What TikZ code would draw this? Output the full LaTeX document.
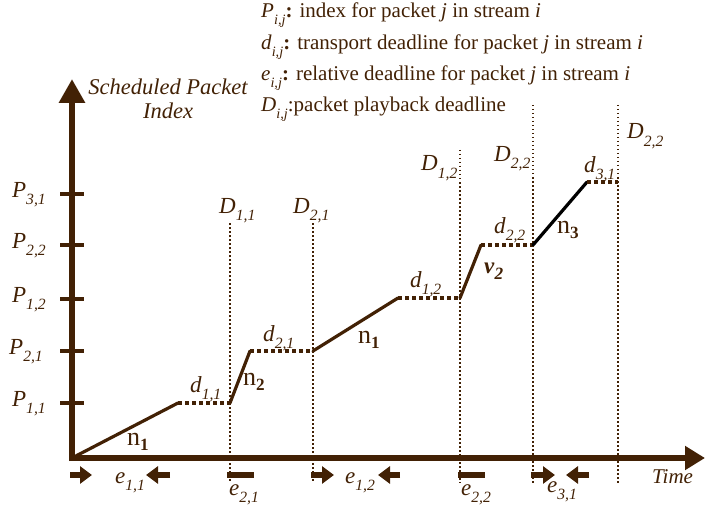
\documentclass[tikz,border=0pt]{standalone}
\usepackage{fontspec}
\setmainfont{Liberation Serif}
\usetikzlibrary{arrows.meta}
\definecolor{ink}{RGB}{66,33,5}
% italic symbol with a lowered italic subscript
\newcommand\lab[2]{\textit{#1}\raisebox{-0.32em}{\scalebox{0.68}{\textit{#2}}}}
\newcommand\nlab[2]{#1\raisebox{-0.22em}{\scalebox{0.66}{\textbf{#2}}}}
\begin{document}
\begin{tikzpicture}[x=1pt,y=-1pt,
  txt/.style={inner sep=0pt,text=ink,font=\fontsize{23}{26}\selectfont},
  rate/.style={inner sep=0pt,text=ink,anchor=base west,font=\fontsize{26}{28}\selectfont},
  legend/.style={inner sep=0pt,text=ink,anchor=base west,font=\fontsize{21}{24}\selectfont},
  axisline/.style={draw=ink,line width=6.5pt},
  tickline/.style={draw=ink,line width=4pt},
  rise/.style={draw=ink,line width=3.2pt,line cap=round},
  hold/.style={draw=ink,line width=3.5pt,dash pattern=on 4.3pt off 2.7pt},
  deadline/.style={draw=ink,line width=1.4pt,dash pattern=on 1.5pt off 2.5pt},
  blockarrow/.style={draw=ink,line width=6.5pt,-{Triangle[length=12pt,width=17pt]}},
  bar/.style={draw=ink,line width=6.5pt}]
\useasboundingbox (0,0) rectangle (707,508);

% axes
\coordinate (O) at (72,458);
\coordinate (ytop) at (72,79);
\coordinate (xend) at (705,458);
\draw[axisline,-{Triangle[length=24pt,width=25pt]}] (72,461) -- (ytop);
\draw[axisline,-{Triangle[length=20pt,width=23pt]}] (69,458) -- (xend);
\node[txt,font=\fontsize{22.5}{24}\selectfont\itshape,align=center] (yname) at (168,99) {Scheduled Packet\\Index};
\node[txt,font=\fontsize{21}{24}\selectfont\itshape,anchor=base west] (tname) at (652,483) {Time};

% ticks and packet indices
\foreach \nm/\yy/\xx/\txt in {p31/194/46/{3,1},p22/245/46/{2,2},p12/299/46/{1,2},p21/351/43/{2,1},p11/403/46/{1,1}}{
  \draw[tickline] (60,\yy) -- (84,\yy);
  \node[txt,anchor=base east] (\nm) at (\xx,\yy+3) {\lab{P}{\txt}};
}

% playback deadlines
\foreach \xx/\ya in {230/223,313/223,460/150,533/105,618/105}{
  \draw[deadline] (\xx,\ya) -- (\xx,483);
}
\node[txt,anchor=base west] (D11) at (219,213) {\lab{D}{1,1}};
\node[txt,anchor=base west] (D21) at (293,213) {\lab{D}{2,1}};
\node[txt,anchor=base west] (D12) at (421,171) {\lab{D}{1,2}};
\node[txt,anchor=base west] (D22a) at (494,161) {\lab{D}{2,2}};
\node[txt,anchor=base west] (D22b) at (627,139) {\lab{D}{2,2}};

% schedule curve
\coordinate (a0) at (72,458);
\coordinate (a1) at (178,403);
\coordinate (a2) at (230,403);
\coordinate (a3) at (250,351);
\coordinate (a4) at (313,351);
\coordinate (a5) at (398,298);
\coordinate (a6) at (460,298);
\coordinate (a7) at (481,245);
\coordinate (a8) at (533,245);
\coordinate (a9) at (587,182);
\coordinate (a10) at (618,182);
\draw[rise] (a0) -- (a1);
\draw[hold] (a1) -- (a2);
\draw[rise] (a2) -- (a3);
\draw[hold] (a3) -- (a4);
\draw[rise] (a4) -- (a5);
\draw[hold] (a5) -- (a6);
\draw[rise] (a6) -- (a7);
\draw[hold] (a7) -- (a8);
\draw[rise,draw=black] (a8) -- (a9);
\draw[hold] (a9) -- (a10);

% transport deadlines and rates
\node[txt,anchor=base west] (d11) at (190,392) {\lab{d}{1,1}};
\node[txt,anchor=base west] (d21) at (263,341) {\lab{d}{2,1}};
\node[txt,anchor=base west] (d12) at (410,287) {\lab{d}{1,2}};
\node[txt,anchor=base west] (d22) at (494,233) {\lab{d}{2,2}};
\node[txt,anchor=base west] (d31) at (584,172) {\lab{d}{3,1}};
\node[rate] (n1a) at (127,445) {\nlab{n}{1}};
\node[rate] (n2) at (243,385) {\nlab{n}{2}};
\node[rate] (n1b) at (358,343) {\nlab{n}{1}};
\node[txt,anchor=base west] (v2) at (484,273) {\textbf{\textit{v}}\raisebox{-0.3em}{\scalebox{0.75}{\textbf{\textit{2}}}}};
\node[rate] (n3) at (557,233) {\nlab{n}{3}};

% relative deadlines below the time axis
\coordinate (r1a) at (70,475);  \coordinate (r1b) at (92,475);
\coordinate (l1a) at (170,475); \coordinate (l1b) at (146,475);
\coordinate (r2a) at (311,475); \coordinate (r2b) at (334,475);
\coordinate (l2a) at (400,475); \coordinate (l2b) at (378,475);
\coordinate (r3a) at (531,475); \coordinate (r3b) at (555,475);
\coordinate (l3a) at (589,475); \coordinate (l3b) at (566,475);
\coordinate (b1a) at (227,475); \coordinate (b1b) at (254,475);
\coordinate (b2a) at (458,475); \coordinate (b2b) at (485,475);
\draw[blockarrow] (r1a) -- (r1b);
\draw[blockarrow] (l1a) -- (l1b);
\draw[blockarrow] (r2a) -- (r2b);
\draw[blockarrow] (l2a) -- (l2b);
\draw[blockarrow] (r3a) -- (r3b);
\draw[blockarrow] (l3a) -- (l3b);
\draw[bar] (b1a) -- (b1b);
\draw[bar] (b2a) -- (b2b);
\node[txt,anchor=base west] (e11) at (115,483) {\lab{e}{1,1}};
\node[txt,anchor=base west] (e21) at (229,495) {\lab{e}{2,1}};
\node[txt,anchor=base west] (e12) at (345,483) {\lab{e}{1,2}};
\node[txt,anchor=base west] (e22) at (461,495) {\lab{e}{2,2}};
\node[txt,anchor=base west] (e31) at (547,492) {\lab{e}{3,1}};

% legend
\node[legend] (leg1) at (261,18) {\lab{P}{i,j}\textbf{:} index for packet \textit{j} in stream \textit{i}};
\node[legend] (leg2) at (261,50) {\lab{d}{i,j}\textbf{:} transport deadline for packet \textit{j} in stream \textit{i}};
\node[legend] (leg3) at (261,81) {\lab{e}{i,j}\textbf{:} relative deadline for packet \textit{j} in stream \textit{i}};
\node[legend] (leg4) at (261,112) {\lab{D}{i,j}:packet playback deadline};
\end{tikzpicture}
\end{document}
